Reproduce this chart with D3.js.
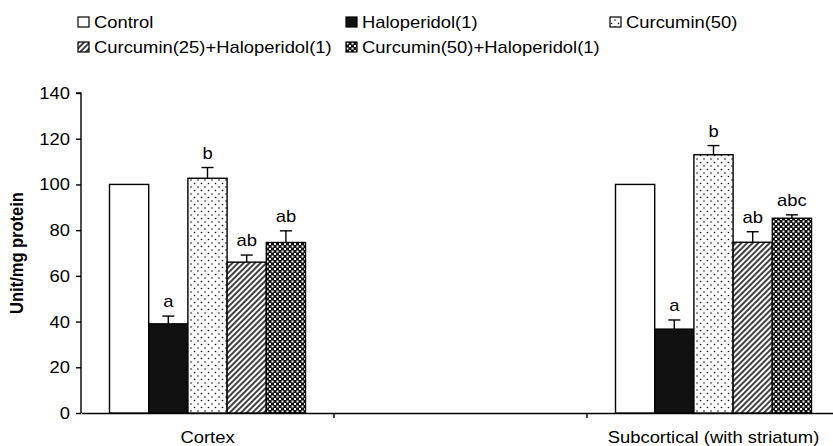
<!DOCTYPE html>
<html>
<head>
<meta charset="utf-8">
<script src="https://cdn.jsdelivr.net/npm/d3@7"></script>
<style>
  body { margin: 0; background: #fff; }
  text { font-family: "Liberation Sans", Arial, sans-serif; fill: #000; }
</style>
</head>
<body>
<div id="chart"></div>
<script>
// data
var regions = ["Cortex", "", "Subcortical (with striatum)"];
var groups = ["Control", "Haloperidol(1)", "Curcumin(50)", "Curcumin(25)+Haloperidol(1)", "Curcumin(50)+Haloperidol(1)"];
var cortexValues = [100, 39, 102.7, 66, 74.6];
var cortexErrors = [0, 3.4, 4.7, 3.1, 5.1];
var cortexLetters = ["", "a", "b", "ab", "ab"];
var subValues = [100, 36.7, 113, 74.7, 85.2];
var subErrors = [0, 4, 4, 4.6, 1.5];
var subLetters = ["", "a", "b", "ab", "abc"];
var yTicks = [0, 20, 40, 60, 80, 100, 120, 140];

var svgWidth = 833;
var svgHeight = 446;
var sx = 1.15; // figure text is stretched horizontally

var svg = d3.select("#chart")
  .append("svg")
  .attr("width", svgWidth)
  .attr("height", svgHeight);

// fill patterns
var defs = svg.append("defs");

var dots = defs.append("pattern")
  .attr("id", "dots")
  .attr("patternUnits", "userSpaceOnUse")
  .attr("width", 7).attr("height", 7);
dots.append("rect").attr("width", 7).attr("height", 7).attr("fill", "#fff");
dots.append("circle").attr("cx", 1.5).attr("cy", 1.5).attr("r", 0.8).attr("fill", "#111");
dots.append("circle").attr("cx", 5).attr("cy", 5).attr("r", 0.8).attr("fill", "#111");

var hatch = defs.append("pattern")
  .attr("id", "hatch")
  .attr("patternUnits", "userSpaceOnUse")
  .attr("width", 4).attr("height", 4)
  .attr("patternTransform", "rotate(45)");
hatch.append("rect").attr("width", 4).attr("height", 4).attr("fill", "#fff");
hatch.append("line").attr("x1", 1).attr("x2", 1).attr("y1", 0).attr("y2", 4)
  .attr("stroke", "#111").attr("stroke-width", 1.6);

var check = defs.append("pattern")
  .attr("id", "check")
  .attr("patternUnits", "userSpaceOnUse")
  .attr("width", 5).attr("height", 5);
check.append("rect").attr("width", 5).attr("height", 5).attr("fill", "#111");
check.append("rect").attr("x", 0.5).attr("y", 0.5).attr("width", 2).attr("height", 2).attr("fill", "#fff");
check.append("rect").attr("x", 3).attr("y", 3).attr("width", 2).attr("height", 2).attr("fill", "#fff");

var fills = ["#fff", "#111", "url(#dots)", "url(#hatch)", "url(#check)"];

// scales
var x0 = d3.scaleBand().domain(regions).range([81, 840]);
var x1 = d3.scaleBand().domain(groups).range([28.5, 224.5]);
var y = d3.scaleLinear().domain([0, 140]).range([413, 93]);

function stretchedText(g, tx, ty, str) {
  return g.append("text")
    .attr("transform", `translate(${tx},${ty}) scale(${sx},1)`)
    .text(str);
}

// y axis
var yAxis = svg.append("g")
  .attr("transform", "translate(81,0)")
  .call(d3.axisLeft(y).tickValues(yTicks).tickSize(5).tickFormat(""));
yAxis.select(".domain").attr("d", `M-5,${y(140)}H0V${y(0)}`).attr("stroke-width", 1.4);
yAxis.selectAll(".tick line").attr("stroke-width", 1.4);
yAxis.selectAll(".tick").each(function(d) {
  stretchedText(d3.select(this), -11, 5.5, d)
    .attr("text-anchor", "end")
    .style("font-size", "16px");
});

// x axis
var xAxis = svg.append("g")
  .attr("transform", `translate(0,${y(0)})`)
  .call(d3.axisBottom(x0).tickSize(0).tickFormat(""));
xAxis.select(".domain").attr("stroke-width", 1.4);
regions.slice(0, 2).forEach(function(r) {
  var bx = x0(r) + x0.bandwidth();
  xAxis.append("line")
    .attr("x1", bx).attr("x2", bx).attr("y1", 0).attr("y2", 5)
    .attr("stroke", "#000").attr("stroke-width", 1.4);
});
regions.forEach(function(r) {
  if (!r) return;
  stretchedText(xAxis, x0(r) + x0.bandwidth() / 2, 30, r)
    .attr("text-anchor", "middle")
    .style("font-size", "16px");
});

// y label
svg.append("text")
  .attr("transform", `translate(23,253) scale(${sx},1) rotate(-90)`)
  .attr("text-anchor", "middle")
  .style("font-size", "16.5px")
  .style("font-weight", "bold")
  .text("Unit/mg protein");

// bars
var chartData = [
  { region: "Cortex", values: cortexValues, errors: cortexErrors, letters: cortexLetters },
  { region: "Subcortical (with striatum)", values: subValues, errors: subErrors, letters: subLetters }
];

chartData.forEach(function(cd) {
  var g = svg.append("g").attr("transform", `translate(${x0(cd.region)},0)`);
  groups.forEach(function(name, i) {
    var v = cd.values[i];
    var bx = x1(name);
    var bw = x1.bandwidth();
    g.append("rect")
      .attr("x", bx).attr("y", y(v))
      .attr("width", bw).attr("height", y(0) - y(v))
      .attr("fill", fills[i])
      .attr("stroke", "#000").attr("stroke-width", 1.4);
    var top = v;
    if (cd.errors[i] > 0) {
      top = v + cd.errors[i];
      g.append("line")
        .attr("x1", bx + bw / 2).attr("x2", bx + bw / 2)
        .attr("y1", y(v)).attr("y2", y(top))
        .attr("stroke", "#000").attr("stroke-width", 1.4);
      g.append("line")
        .attr("x1", bx + bw / 2 - 6).attr("x2", bx + bw / 2 + 6)
        .attr("y1", y(top)).attr("y2", y(top))
        .attr("stroke", "#000").attr("stroke-width", 1.4);
    }
    if (cd.letters[i]) {
      stretchedText(g, bx + bw / 2, y(top) - 9, cd.letters[i])
        .attr("text-anchor", "middle")
        .style("font-size", "16px");
    }
  });
});

// legend
var legendPos = [[78, 22], [346, 22], [610, 22], [78, 47], [346, 47]];
var legend = svg.append("g");
groups.forEach(function(name, i) {
  var lg = legend.append("g").attr("transform", `translate(${legendPos[i][0]},${legendPos[i][1]})`);
  lg.append("rect")
    .attr("x", 0).attr("y", -5).attr("width", 11).attr("height", 10)
    .attr("fill", fills[i])
    .attr("stroke", "#000").attr("stroke-width", 1.2);
  stretchedText(lg, 16, 6, name).style("font-size", "16px");
});
</script>
</body>
</html>
